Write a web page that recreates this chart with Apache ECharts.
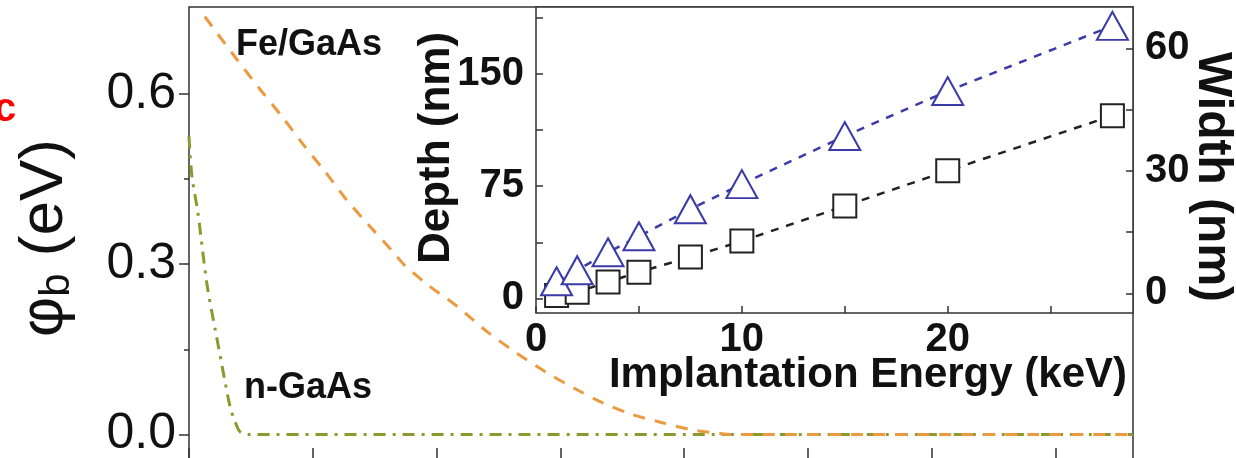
<!DOCTYPE html>
<html>
<head>
<meta charset="utf-8">
<script src="https://cdn.jsdelivr.net/npm/echarts@6/dist/echarts.min.js"></script>
<style>
html,body{margin:0;padding:0;background:#fff;}
#chart{width:1236px;height:458px;}
</style>
</head>
<body>
<div id="chart"></div>
<script>
// ---- Main panel: barrier profile phi_b vs distance ----
const feGaAsX = [3.2, 9.3, 13.9, 18.8, 22.8, 27.5, 31.5, 36.2, 41.0, 43.6, 48.5, 54.3, 60.4, 66.3, 72.3, 78.4, 83.6, 89.7, 95.6, 101.2, 107.3, 110.3, 190.7];
const feGaAsY = [0.736, 0.665, 0.613, 0.560, 0.514, 0.463, 0.417, 0.370, 0.324, 0.298, 0.262, 0.225, 0.180, 0.143, 0.109, 0.079, 0.056, 0.035, 0.021, 0.009, 0.002, 0, 0];
const nGaAsX = [0, 0.6, 1.8, 2.8, 3.8, 5.3, 6.7, 8.3, 9.3, 10.3, 11.7, 190.7];
const nGaAsY = [0.525, 0.454, 0.391, 0.320, 0.255, 0.185, 0.120, 0.049, 0.023, 0.005, 0, 0];
const mainYTickLabels = [0, 0.3, 0.6];
const mainYMinorTicks = [0.15, 0.45];
const mainXTicks = [0, 25, 50, 75, 100, 125, 150, 175];

// ---- Inset: implantation depth / width vs energy ----
const energy = [1, 2, 3.5, 5, 7.5, 10, 15, 20, 28];
const depth = [11.4, 18.8, 30.8, 41.5, 59.6, 76.4, 108.5, 138.6, 182.2];
const widthNm = [-0.5, 0.3, 2.8, 5.2, 8.9, 12.8, 21.4, 30.0, 43.5];
const insetXLabels = [0, 10, 20];
const insetXTicks = [0, 5, 10, 15, 20, 25];
const depthLabels = [0, 75, 150];
const depthTicks = [0, 37.5, 75, 112.5, 150, 187.5];
const widthLabels = [0, 30, 60];
const widthTicks = [0, 15, 30, 45, 60];

const FONT = 'Liberation Sans';
const toPairs = (xs, ys) => xs.map((x, i) => [x, ys[i]]);

const chart = echarts.init(document.getElementById('chart'), null, {renderer: 'canvas'});

const option = {
  backgroundColor: '#fff',
  animation: false,
  grid: [
    {left: 189, top: 7, width: 944, height: 456, show: true, borderColor: '#333', borderWidth: 1.5, backgroundColor: 'transparent', containLabel: false, outerBoundsMode: 'none'},
    {left: 536, top: 7, width: 597, height: 306, show: true, borderColor: '#333', borderWidth: 1.5, backgroundColor: '#fff', z: 3, containLabel: false, outerBoundsMode: 'none'}
  ],
  xAxis: [
    {type: 'value', gridIndex: 0, min: 0, max: 190.7, position: 'bottom', axisLine: {show: false, onZero: false}, splitLine: {show: false},
     axisTick: {show: true, inside: true, length: 15, customValues: mainXTicks, lineStyle: {color: '#333', width: 1.5}},
     axisLabel: {show: false}},
    {type: 'value', gridIndex: 1, min: 0, max: 29, z: 6, position: 'bottom', axisLine: {show: false, onZero: false}, splitLine: {show: false},
     axisTick: {show: true, inside: true, length: 7, customValues: insetXTicks, lineStyle: {color: '#333', width: 1.5}},
     axisLabel: {show: true, customValues: insetXLabels, margin: 7, fontFamily: FONT, fontWeight: 'bold', fontSize: 40, color: '#111'}}
  ],
  yAxis: [
    {type: 'value', gridIndex: 0, min: -0.05, max: 0.753, position: 'left', axisLine: {show: false, onZero: false}, splitLine: {show: false},
     axisTick: {show: true, inside: false, length: 10, customValues: mainYTickLabels, lineStyle: {color: '#333', width: 1.5}},
     axisLabel: {show: true, customValues: mainYTickLabels, margin: 13, fontFamily: FONT, fontSize: 50, color: '#111',
       formatter: v => Number(v).toFixed(1)}},
    {type: 'value', gridIndex: 0, min: -0.05, max: 0.753, position: 'left', axisLine: {show: false, onZero: false}, splitLine: {show: false},
     axisTick: {show: true, inside: false, length: 5, customValues: mainYMinorTicks, lineStyle: {color: '#333', width: 1.5}},
     axisLabel: {show: false}},
    {type: 'value', gridIndex: 1, min: -9.8, max: 194.8, position: 'left', z: 6, axisLine: {show: false, onZero: false}, splitLine: {show: false},
     axisTick: {show: true, inside: true, length: 7, customValues: depthTicks, lineStyle: {color: '#333', width: 1.5}},
     axisLabel: {show: true, customValues: depthLabels, margin: 12, fontFamily: FONT, fontWeight: 'bold', fontSize: 40, color: '#111'}},
    {type: 'value', gridIndex: 1, min: -4.8, max: 70.1, position: 'right', z: 6, axisLine: {show: false, onZero: false}, splitLine: {show: false},
     axisTick: {show: true, inside: true, length: 7, customValues: widthTicks, lineStyle: {color: '#333', width: 1.5}},
     axisLabel: {show: true, customValues: widthLabels, margin: 12, fontFamily: FONT, fontWeight: 'bold', fontSize: 40, color: '#111'}}
  ],
  series: [
    {name: 'n-GaAs', type: 'line', xAxisIndex: 0, yAxisIndex: 0, data: toPairs(nGaAsX, nGaAsY), showSymbol: false, smooth: 0.3, z: 2,
     lineStyle: {color: '#8a9a2c', width: 3, type: [12, 7, 3, 7]}},
    {name: 'Fe/GaAs', type: 'line', xAxisIndex: 0, yAxisIndex: 0, data: toPairs(feGaAsX, feGaAsY), showSymbol: false, smooth: 0.3, z: 2,
     lineStyle: {color: '#eb9a40', width: 3, type: [12, 10]}},
    {name: 'Width', type: 'line', xAxisIndex: 1, yAxisIndex: 3, data: toPairs(energy, widthNm), z: 4,
     symbol: 'rect', symbolSize: 23,
     itemStyle: {color: '#fff', borderColor: '#222', borderWidth: 2},
     lineStyle: {color: '#222', width: 2.5, type: [8, 8]}},
    {name: 'Depth', type: 'line', xAxisIndex: 1, yAxisIndex: 2, data: toPairs(energy, depth), z: 5,
     symbol: 'triangle', symbolSize: [31, 28],
     itemStyle: {color: '#fff', borderColor: '#3a3aa8', borderWidth: 2},
     lineStyle: {color: '#3a3aa8', width: 2.5, type: [8, 8]}}
  ],
  graphic: [
    {type: 'text', x: -6, y: 110, z: 10, style: {text: 'c', fill: '#ff0000', font: 'bold 40px "Liberation Sans"', textAlign: 'left', textVerticalAlign: 'middle'}},
    {type: 'text', x: 45, y: 238, rotation: Math.PI / 2, z: 10,
     style: {text: '{a|φ}{b|b}{a| (eV)}', textAlign: 'center', textVerticalAlign: 'middle',
       rich: {a: {fontFamily: FONT, fontSize: 62, lineHeight: 66, fill: '#111'},
              b: {fontFamily: FONT, fontSize: 42, lineHeight: 42, verticalAlign: 'bottom', fill: '#111'}}}},
    {type: 'text', x: 236, y: 45, z: 10, style: {text: 'Fe/GaAs', fill: '#111', font: 'bold 36px "Liberation Sans"', textAlign: 'left', textVerticalAlign: 'middle'}},
    {type: 'text', x: 244, y: 388, z: 10, style: {text: 'n-GaAs', fill: '#111', font: 'bold 36px "Liberation Sans"', textAlign: 'left', textVerticalAlign: 'middle'}},
    {type: 'text', x: 1127, y: 375, z: 10, style: {text: 'Implantation Energy (keV)', fill: '#111', font: 'bold 42px "Liberation Sans"', textAlign: 'right', textVerticalAlign: 'middle'}},
    {type: 'text', x: 437, y: 148, rotation: Math.PI / 2, z: 10, style: {text: 'Depth (nm)', fill: '#111', font: 'bold 44px "Liberation Sans"', textAlign: 'center', textVerticalAlign: 'middle'}},
    {type: 'text', x: 1212, y: 177, rotation: -Math.PI / 2, z: 10, style: {text: 'Width (nm)', fill: '#111', font: 'bold 48px "Liberation Sans"', textAlign: 'center', textVerticalAlign: 'middle'}}
  ]
};
chart.setOption(option);
</script>
</body>
</html>
